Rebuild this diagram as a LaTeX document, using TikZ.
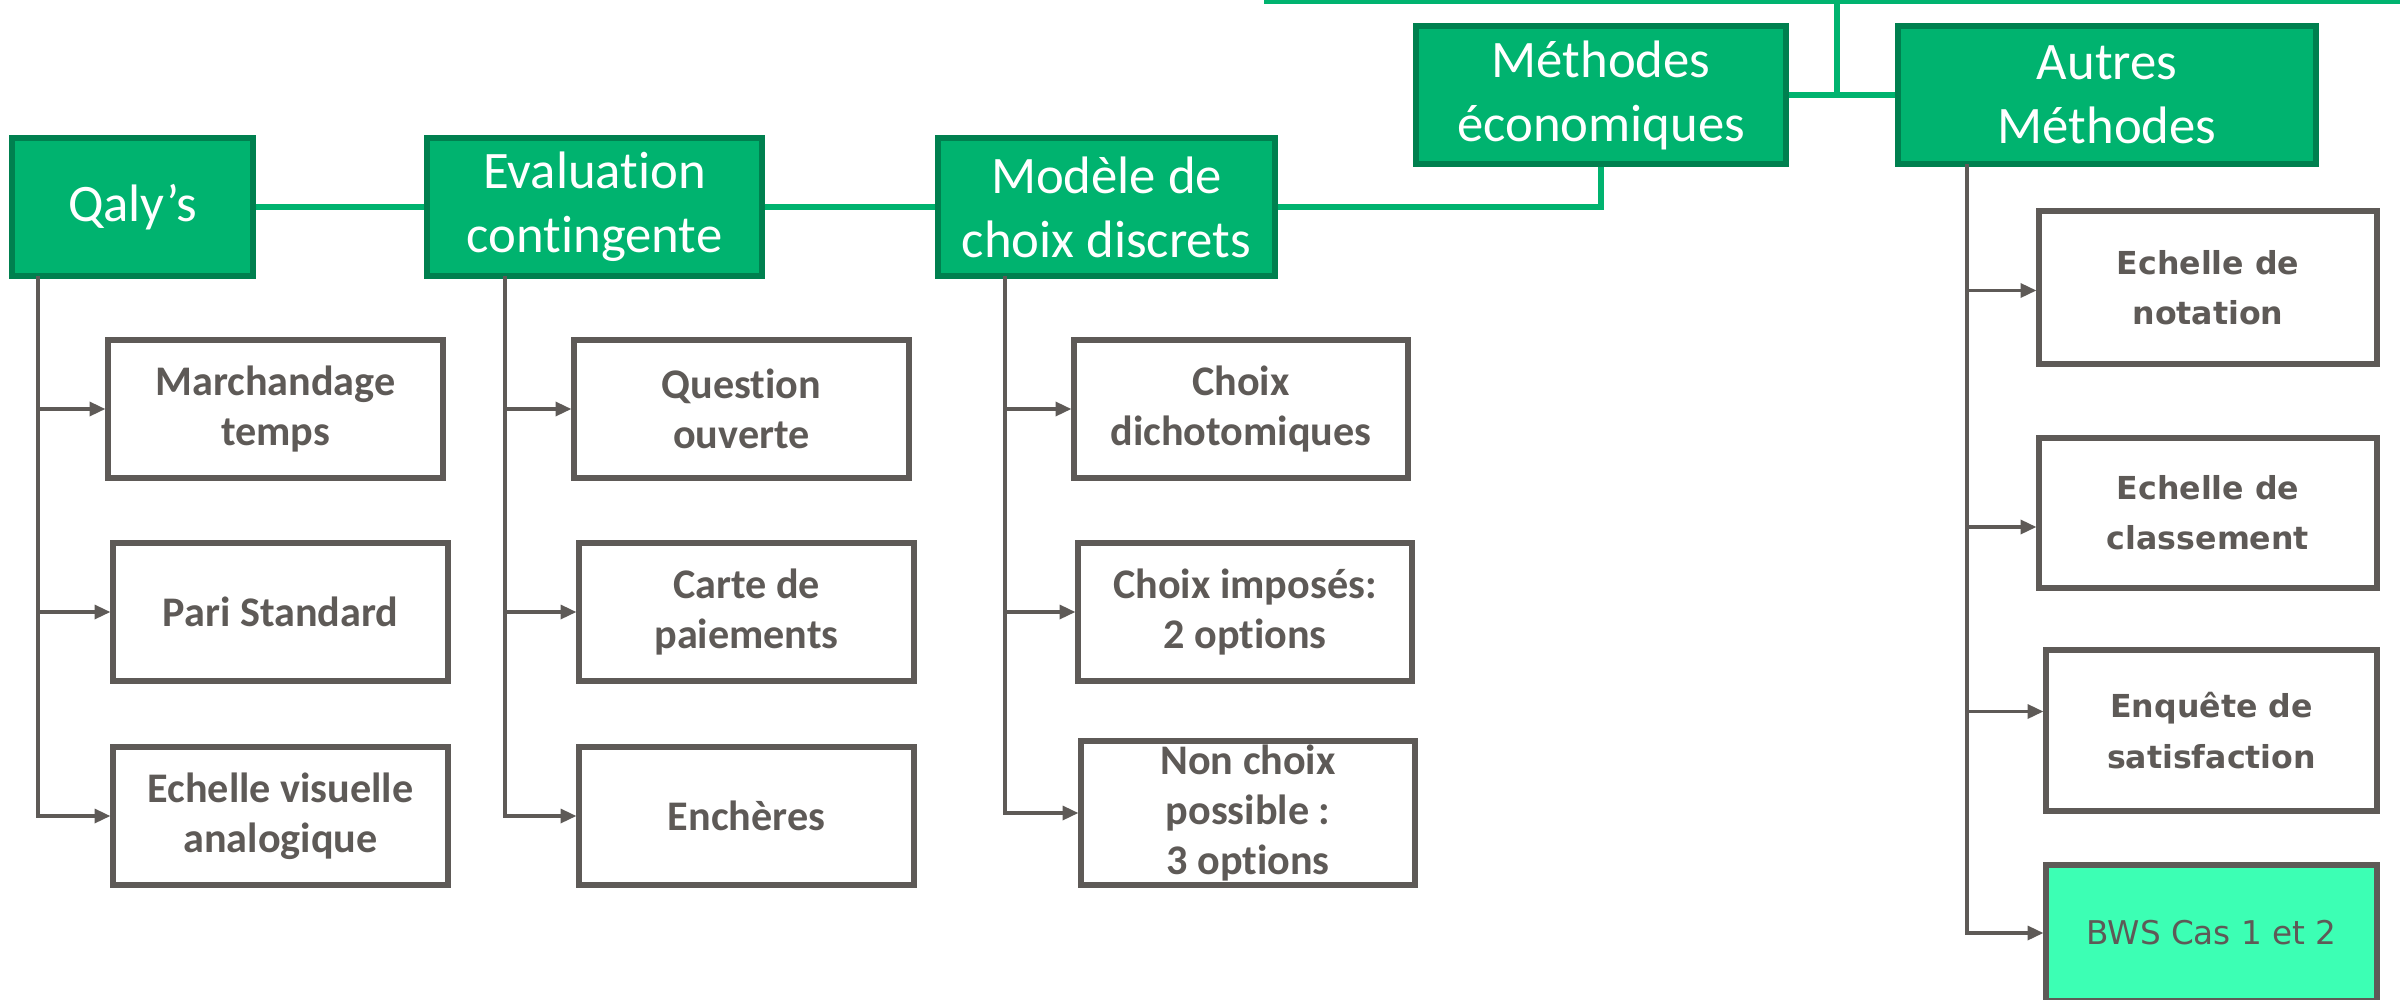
\documentclass[tikz,border=0pt]{standalone}
\usepackage{fontspec}
\setmainfont[Ligatures=NoCommon]{Carlito}
\newfontfamily\largefont{DejaVu Sans}
\usepackage{tikz}
\usetikzlibrary{backgrounds,
	arrows.meta
}
\usepackage{xcolor}
\definecolor{methode}{HTML}{00B36F}
\definecolor{methodebord}{HTML}{00804F}
\definecolor{branche}{HTML}{5E5A57}
\definecolor{bws}{HTML}{3CFFB4}

\begin{document}
\begin{tikzpicture}[
	methode/.style={draw=methodebord,line width=1.5pt,fill=methode,text=white,align=center,inner sep=0pt,minimum height=1.38cm,font=\fontsize{15}{18.2}\selectfont},
	outil/.style={draw=branche,line width=1.5pt,fill=white,text=branche,align=center,inner sep=0pt,minimum width=3.35cm,minimum height=1.38cm,font=\bfseries\fontsize{12}{14.3}\selectfont},
	autre/.style={outil,minimum width=3.38cm,font=\largefont\bfseries\fontsize{9}{14.3}\selectfont},
	lien/.style={draw=methode,line width=1.5pt},
	fleche/.style={draw=branche,line width=0.9pt,-{Triangle[length=4.5pt,width=4pt]}}
	]
	\useasboundingbox (0,0) rectangle (24,-9.99);
	%
	\node[methode,minimum width=2.41cm] (qaly) at (1.325,-2.07) {Qaly’s};
	\node[methode,minimum width=3.35cm] (evalc) at (5.945,-2.07) {Evaluation\\contingente};
	\node[methode,minimum width=3.37cm] (choix) at (11.065,-2.07) {Modèle de\\choix discrets};
	\node[methode,minimum width=3.70cm] (eco) at (16.01,-0.95) {Méthodes\\économiques};
	\node[methode,minimum width=4.18cm] (autres) at (21.07,-0.95) {Autres\\Méthodes};
	%
	\coordinate (haut1) at (12.64,-0.01);
	\coordinate (haut2) at (24,-0.01);
	\coordinate (hautm) at (18.37,-0.01);
	\draw[lien] (haut1) -- (haut2);
	\draw[lien] (hautm) -- (hautm |- eco.east);
	\draw[lien] (eco.east) -- (autres.west);
	\draw[lien] (choix.east) -| (eco.south);
	\draw[lien] (qaly.east) -- (evalc.west);
	\draw[lien] (evalc.east) -- (choix.west);
	%
	\node[outil] (marchandage) at (2.755,-4.09) {Marchandage\\temps};
	\node[outil] (pari) at (2.805,-6.12) {Pari Standard};
	\node[outil] (eva) at (2.805,-8.16) {Echelle visuelle\\analogique};
	%
	\node[outil] (question) at (7.415,-4.09) {Question\\ouverte};
	\node[outil] (carte) at (7.465,-6.12) {Carte de\\paiements};
	\node[outil] (encheres) at (7.465,-8.16) {Enchères};
	%
	\node[outil,minimum width=3.34cm] (dicho) at (12.41,-4.09) {Choix\\dichotomiques};
	\node[outil,minimum width=3.34cm] (impose) at (12.45,-6.12) {Choix imposés:\\2 options};
	\node[outil,minimum width=3.34cm,minimum height=1.44cm] (nonchoix) at (12.48,-8.13) {Non choix\\possible :\\3 options};
	%
	\node[autre,minimum height=1.53cm] (notation) at (22.08,-2.875) {Echelle de\\notation};
	\node[autre,minimum height=1.50cm] (classement) at (22.08,-5.13) {Echelle de\\classement};
	\node[autre,minimum width=3.31cm,minimum height=1.61cm] (enquete) at (22.115,-7.305) {Enquête de\\satisfaction};
	\node[autre,minimum width=3.31cm,minimum height=1.36cm,fill=bws,font=\largefont\fontsize{9.3}{14.3}\selectfont] (bws) at (22.115,-9.33) {BWS Cas 1 et 2};
	%
	\coordinate (qalypied) at (0.38,-2.76);
	\coordinate (evalcpied) at (5.05,-2.76);
	\coordinate (choixpied) at (10.05,-2.76);
	\coordinate (autrespied) at (19.67,-1.64);
	%
	\draw[fleche] (qalypied) |- (marchandage.west);
	\draw[fleche] (qalypied) |- (pari.west);
	\draw[fleche] (qalypied) |- (eva.west);
	%
	\draw[fleche] (evalcpied) |- (question.west);
	\draw[fleche] (evalcpied) |- (carte.west);
	\draw[fleche] (evalcpied) |- (encheres.west);
	%
	\draw[fleche] (choixpied) |- (dicho.west);
	\draw[fleche] (choixpied) |- (impose.west);
	\draw[fleche] (choixpied) |- (nonchoix.west);
	%
	\draw[fleche] (autrespied) |- ([yshift=-0.03cm]notation.west);
	\draw[fleche] (autrespied) |- ([yshift=-0.14cm]classement.west);
	\draw[fleche] (autrespied) |- ([yshift=0.19cm]enquete.west);
	\draw[fleche] (autrespied) |- (bws.west);
\end{tikzpicture}
\end{document}
